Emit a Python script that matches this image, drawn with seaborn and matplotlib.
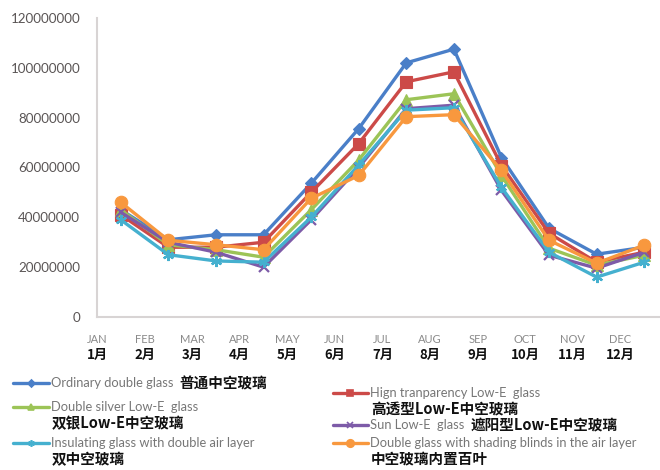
import matplotlib
matplotlib.use("Agg")
import matplotlib.pyplot as plt
import seaborn as sns
import pandas as pd
from matplotlib.lines import Line2D
from matplotlib.ticker import FuncFormatter, FixedLocator
import matplotlib.transforms as mtransforms

# Monthly energy use for six glazing types
months_en = ["JAN", "FEB", "MAR", "APR", "MAY", "JUN",
             "JUL", "AUG", "SEP", "OCT", "NOV", "DEC"]
months_cn = ["1月", "2月", "3月", "4月", "5月", "6月",
             "7月", "8月", "9月", "10月", "11月", "12月"]

ordinary = [43.0, 31.0, 33.0, 33.0, 53.6, 75.6, 102.0, 107.5, 64.0, 35.6, 25.2, 28.0]
high_trans = [41.0, 28.0, 28.0, 30.0, 50.0, 69.6, 94.4, 98.4, 60.8, 33.6, 22.0, 26.0]
double_silver = [43.0, 29.0, 27.0, 24.0, 43.0, 63.0, 87.2, 89.6, 56.8, 27.6, 20.8, 24.8]
sun_lowe = [42.0, 30.0, 26.0, 20.0, 39.0, 60.0, 83.6, 85.0, 50.8, 24.8, 19.6, 26.0]
double_air = [39.0, 25.0, 22.5, 22.0, 40.0, 61.0, 83.0, 84.0, 52.0, 26.0, 16.0, 22.0]
blinds = [46.0, 30.8, 29.0, 27.0, 47.6, 56.8, 80.4, 81.2, 58.8, 30.8, 21.6, 28.8]

series_names = ["ordinary", "high_trans", "double_silver", "sun_lowe", "double_air", "blinds"]
series_values = [ordinary, high_trans, double_silver, sun_lowe, double_air, blinds]

legend_en = ["Ordinary double glass ",
             "Hign tranparency Low-E  glass",
             "Double silver Low-E  glass",
             "Sun Low-E  glass ",
             "Insulating glass with double air layer",
             "Double glass with shading blinds in the air layer"]
legend_cn = ["普通中空玻璃", "高透型Low-E中空玻璃", "双银Low-E中空玻璃",
             "遮阳型Low-E中空玻璃", "双中空玻璃", "中空玻璃内置百叶"]

colors = {"ordinary": "#4a7fc8", "high_trans": "#cc4a48", "double_silver": "#9cc457",
          "sun_lowe": "#7d5ba8", "double_air": "#45b0cf", "blinds": "#f8983e"}
markers = {"ordinary": "D", "high_trans": "s", "double_silver": "^",
           "sun_lowe": "x", "double_air": (6, 2, 0), "blinds": "o"}
msizes = {"ordinary": 6, "high_trans": 8, "double_silver": 8,
          "sun_lowe": 7, "double_air": 8, "blinds": 9}

rows = []
for name, vals in zip(series_names, series_values):
    for i, v in enumerate(vals):
        rows.append({"month": i, "value": v * 1e6, "series": name})
df = pd.DataFrame(rows)

sns.set_theme(style="white")
plt.rcParams["font.family"] = ["Lato", "DejaVu Sans"]

W, H = 660, 470
fig = plt.figure(figsize=(W / 100, H / 100), dpi=100)
fig.patch.set_facecolor("white")
ax = fig.add_axes([97 / W, 1 - 317 / H, 571 / W, 299 / H])

for name in series_names:
    sub = df[df["series"] == name]
    sns.lineplot(data=sub, x="month", y="value", ax=ax, color=colors[name],
                 marker=markers[name], markersize=msizes[name],
                 markeredgecolor=colors[name],
                 markeredgewidth=1.6 if name in ("sun_lowe", "double_air") else 0.8,
                 linewidth=2.4, legend=False)

ax.set_xlim(-0.5, 11.5)
ax.set_ylim(0, 120e6)
ax.yaxis.set_major_locator(FixedLocator([i * 20e6 for i in range(7)]))
ax.yaxis.set_major_formatter(FuncFormatter(lambda v, p: f"{int(round(v))}"))
ax.set_xticks([i - 0.5 for i in range(12)])
ax.set_xticklabels(months_en)
ax.tick_params(axis="x", length=0, pad=12, labelsize=8, labelcolor="#8a8a8a")
ax.tick_params(axis="y", length=0, pad=12, labelsize=9.6, labelcolor="#5a5555")
ax.set_xlabel("")
ax.set_ylabel("")
for s in ("top", "right"):
    ax.spines[s].set_visible(False)
for s in ("left", "bottom"):
    ax.spines[s].set_color("#d8d4d4")
    ax.spines[s].set_linewidth(1.5)

trans = mtransforms.blended_transform_factory(ax.transData, fig.transFigure)
for i, lab in enumerate(months_cn):
    ax.text(i - 0.5, 1 - 355 / H, lab, transform=trans, ha="center", va="center",
            fontsize=9.5, fontweight="bold", color="#111111",
            family=["Noto Sans CJK SC", "DejaVu Sans"])

# Legend built by hand: handle line, English text, bold Chinese text
cn_font = ["Noto Sans CJK SC", "DejaVu Sans"]
entries = [
    # name, handle x0, x1, y, english, chinese, chinese on new line
    ("ordinary", 13, 49, 383, legend_en[0], legend_cn[0], False),
    ("high_trans", 333, 368, 393, legend_en[1], legend_cn[1], True),
    ("double_silver", 13, 49, 407, legend_en[2], legend_cn[2], True),
    ("sun_lowe", 333, 368, 425, legend_en[3], legend_cn[3], False),
    ("double_air", 13, 49, 443, legend_en[4], legend_cn[4], True),
    ("blinds", 333, 368, 443, legend_en[5], legend_cn[5], True),
]
fig.canvas.draw()
renderer = fig.canvas.get_renderer()
for name, x0, x1, y, en, cn, newline in entries:
    fy = 1 - y / H
    fig.add_artist(Line2D([x0 / W, x1 / W], [fy, fy], transform=fig.transFigure,
                          color=colors[name], linewidth=2.4))
    fig.add_artist(Line2D([(x0 + x1) / 2 / W], [fy], transform=fig.transFigure,
                          color=colors[name], marker=markers[name],
                          markersize=msizes[name] * 0.6, markeredgecolor=colors[name],
                          markeredgewidth=1.2, linestyle="none"))
    t = fig.text((x1 + 2) / W, fy, en, ha="left", va="center", fontsize=9.3,
                 color="#767676")
    if newline:
        fig.text((x1 + 3) / W, 1 - (y + 16) / H, cn, ha="left", va="center",
                 fontsize=10.5, fontweight="bold", color="#111111", family=cn_font)
    else:
        ext = t.get_window_extent(renderer)
        fig.text((ext.x1 + 3) / W, fy, cn, ha="left", va="center",
                 fontsize=10.5, fontweight="bold", color="#111111", family=cn_font)

fig.savefig("out.png", dpi=100, facecolor="white")
